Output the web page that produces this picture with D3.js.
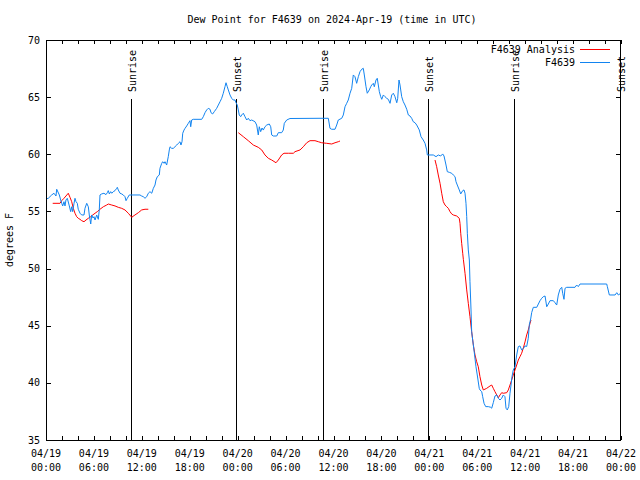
<!DOCTYPE html>
<html><head><meta charset="utf-8">
<script src="https://cdn.jsdelivr.net/npm/d3@7"></script>
<style>
html,body{margin:0;padding:0;background:#fff;}
text{font-family:"DejaVu Sans Mono","Liberation Mono",monospace;font-size:10px;fill:#000;}
</style></head>
<body><svg id="c" width="640" height="480"></svg>
<script>
const titleText = "Dew Point for F4639 on 2024-Apr-19 (time in UTC)";
const yLabel = "degrees F";
const yTicks = [35, 40, 45, 50, 55, 60, 65, 70];
const startUTC = Date.UTC(2024, 3, 19, 0, 0);
const endUTC = Date.UTC(2024, 3, 22, 0, 0);
// events: [label, hours since 04/19 00:00 UTC]
const eventLabels = ["Sunrise", "Sunset", "Sunrise", "Sunset", "Sunrise", "Sunset"];
const eventHours = [10.64, 23.79, 34.69, 47.83, 58.6, 71.87];
const seriesNames = ["F4639 Analysis", "F4639"];
const seriesColors = ["#ff0000", "#1284f0"];

// Station observations [hour, degF]
const stationObs = [[0.05,56.1],[0.29,56.15],[0.71,56.44],[1.0,56.59],[1.25,56.35],[1.34,56.94],[1.67,56.44],[1.84,56.0],[1.97,55.71],[2.09,55.48],[2.25,55.85],[2.38,55.48],[2.5,56.0],[2.67,56.15],[2.92,55.48],[3.09,54.98],[3.22,55.41],[3.34,54.98],[3.51,55.71],[3.63,56.15],[3.76,55.85],[3.92,55.71],[4.04,55.19],[4.26,54.84],[4.47,54.69],[4.76,54.69],[4.88,55.27],[5.1,55.71],[5.3,55.41],[5.42,54.69],[5.6,53.9],[5.72,54.69],[5.89,54.42],[6.01,54.54],[6.14,54.25],[6.35,54.69],[6.55,54.31],[6.67,55.13],[6.76,56.44],[6.97,56.53],[7.26,56.59],[7.51,56.47],[7.68,56.64],[7.8,56.82],[7.93,56.53],[8.1,56.73],[8.23,56.59],[8.43,56.73],[8.64,56.82],[8.85,57.02],[8.93,57.11],[9.05,56.88],[9.27,56.59],[9.48,56.53],[9.68,56.44],[9.89,56.29],[10.02,55.94],[10.18,56.15],[10.43,56.44],[11.77,56.44],[11.98,56.35],[12.18,56.29],[12.4,56.15],[12.61,56.29],[12.81,56.59],[13.02,56.73],[13.24,56.59],[13.44,57.02],[13.65,57.31],[13.77,57.75],[13.94,58.04],[14.19,58.19],[14.27,58.77],[14.49,59.21],[14.61,59.35],[14.78,59.21],[14.9,59.35],[15.11,59.06],[15.31,59.79],[15.44,60.38],[15.53,60.66],[15.74,60.52],[15.94,60.52],[16.15,60.66],[16.37,60.81],[16.57,60.96],[16.78,61.1],[16.9,60.81],[17.03,61.1],[17.12,61.84],[17.28,62.12],[17.41,62.27],[17.62,62.48],[17.82,62.71],[18.03,62.94],[18.12,62.41],[18.24,63.0],[18.44,63.06],[19.5,63.06],[19.7,63.29],[19.91,63.64],[20.12,63.88],[20.32,64.02],[20.54,63.94],[20.66,63.64],[20.87,63.53],[21.07,63.73],[21.37,64.02],[21.58,64.31],[21.79,64.6],[22.0,64.9],[22.2,65.34],[22.41,65.91],[22.54,66.26],[22.7,65.91],[22.83,65.63],[23.04,65.19],[23.25,64.9],[23.45,64.75],[23.67,64.75],[23.79,64.51],[23.95,64.31],[24.08,63.88],[24.2,63.44],[24.38,63.29],[24.5,63.44],[24.71,63.59],[24.92,63.29],[25.13,63.0],[25.33,63.15],[25.54,62.94],[25.76,63.0],[26.17,62.85],[26.38,62.56],[26.58,61.69],[26.71,62.41],[26.88,61.98],[27.05,62.3],[27.21,62.12],[27.42,62.41],[27.64,62.56],[27.96,62.65],[28.14,62.41],[28.26,61.69],[28.46,61.6],[28.89,61.6],[29.09,61.89],[29.51,61.89],[29.71,62.12],[29.84,62.71],[30.14,63.0],[30.55,63.13],[34.31,63.15],[35.35,63.15],[35.56,62.27],[35.77,62.19],[36.19,62.19],[36.4,62.56],[36.6,63.0],[37.03,63.15],[37.23,63.44],[37.44,64.16],[37.65,64.46],[37.85,64.75],[38.07,65.34],[38.28,65.77],[38.48,66.94],[38.69,66.79],[38.9,66.21],[39.11,66.79],[39.32,67.23],[39.53,67.44],[39.73,67.52],[39.86,66.94],[40.07,65.91],[40.23,65.34],[40.48,65.63],[40.66,65.91],[40.78,66.06],[40.99,66.21],[41.11,65.91],[41.32,66.5],[41.48,66.65],[41.61,66.06],[41.74,65.48],[41.91,65.04],[42.04,64.81],[42.24,65.19],[42.45,65.04],[42.66,64.9],[42.86,64.81],[43.08,64.46],[43.29,65.19],[43.49,65.34],[43.7,65.04],[43.92,64.51],[44.04,64.9],[44.2,66.5],[44.33,66.06],[44.54,65.04],[44.74,64.6],[44.95,64.31],[45.17,63.94],[45.37,63.44],[45.58,63.35],[45.79,63.15],[45.99,62.85],[46.21,62.76],[46.42,62.56],[46.74,62.13],[46.96,61.54],[47.24,61.25],[47.46,60.96],[47.67,60.38],[47.75,59.94],[48.5,59.94],[48.84,59.79],[49.12,59.94],[49.42,59.85],[49.67,60.03],[49.84,59.85],[50.09,59.06],[50.25,58.48],[50.5,58.42],[50.8,58.34],[51.0,58.19],[51.22,58.04],[51.34,57.6],[51.5,57.31],[51.75,56.88],[51.93,56.53],[52.18,56.82],[52.34,56.88],[52.47,56.59],[52.59,55.71],[52.68,54.54],[52.76,53.09],[52.88,51.63],[53.01,50.75],[53.09,48.85],[53.22,46.38],[53.3,44.48],[53.43,43.75],[53.59,42.88],[53.84,41.41],[54.0,40.69],[54.25,39.52],[54.34,39.38],[54.56,39.23],[54.68,38.79],[54.85,38.21],[55.06,37.92],[55.39,37.92],[55.69,37.86],[55.81,37.78],[56.01,38.27],[56.22,38.85],[56.44,38.94],[56.64,38.65],[56.85,38.5],[57.06,38.65],[57.26,38.94],[57.47,38.79],[57.6,37.78],[57.76,37.63],[57.94,37.92],[58.1,39.09],[58.23,39.81],[58.35,40.54],[58.51,41.13],[58.73,41.41],[58.94,42.44],[59.14,43.17],[59.35,43.23],[59.56,42.88],[59.77,43.0],[59.98,43.23],[60.19,43.18],[60.39,43.9],[60.52,45.09],[60.69,45.59],[60.82,46.16],[61.02,46.61],[61.45,46.61],[61.65,46.9],[61.86,47.19],[62.07,47.4],[62.27,47.54],[62.49,47.6],[62.7,46.66],[62.9,46.9],[63.11,47.19],[63.53,47.19],[63.74,47.01],[63.95,46.81],[64.15,47.69],[64.36,48.19],[64.58,48.36],[64.7,47.84],[64.86,47.31],[64.99,48.27],[65.2,48.36],[66.24,48.36],[66.45,48.56],[66.65,48.42],[66.87,48.65],[70.21,48.65],[70.29,48.42],[70.54,47.69],[71.26,47.69],[71.47,47.89],[71.67,47.69],[71.97,47.84]];

// Analysis, three runs
const analysisRun1 = [[0.84,55.71],[1.75,55.71],[1.97,55.94],[2.25,56.15],[2.5,56.35],[2.79,56.59],[3.0,56.24],[3.22,55.85],[3.42,55.27],[3.63,54.84],[3.84,54.54],[4.04,54.4],[4.26,54.31],[4.47,54.19],[4.76,54.1],[5.01,54.25],[5.3,54.4],[5.6,54.54],[5.85,54.69],[6.14,54.84],[6.42,54.98],[6.76,55.19],[7.18,55.41],[7.6,55.56],[7.8,55.65],[8.23,55.56],[8.64,55.48],[9.05,55.36],[9.48,55.27],[9.89,55.13],[10.31,54.84],[10.73,54.49],[11.14,54.69],[11.56,54.89],[11.98,55.13],[12.4,55.19],[12.81,55.19]];
const analysisRun2 = [[24.08,61.89],[24.71,61.54],[25.33,61.19],[25.96,60.81],[26.58,60.61],[27.01,60.38],[27.42,59.94],[27.84,59.65],[28.26,59.5],[28.8,59.26],[29.09,59.5],[29.51,59.94],[29.8,60.09],[30.34,60.09],[30.97,60.09],[31.18,60.23],[31.81,60.38],[32.22,60.66],[32.65,61.01],[33.06,61.19],[33.68,61.19],[34.1,61.1],[34.52,61.01],[35.15,60.96],[35.78,60.9],[36.19,61.01],[36.6,61.1],[36.81,61.16]];
const analysisRun3 = [[48.71,59.5],[48.92,58.91],[49.12,58.19],[49.34,57.46],[49.55,56.59],[49.75,55.85],[49.96,55.56],[50.18,55.41],[50.38,55.27],[50.59,54.98],[50.8,54.78],[51.0,54.69],[51.43,54.6],[51.75,54.4],[51.84,53.96],[51.93,53.09],[52.05,52.21],[52.18,51.34],[52.26,50.81],[52.47,49.59],[52.68,48.13],[52.88,46.96],[53.09,45.79],[53.3,44.48],[53.51,43.31],[53.72,42.44],[53.93,41.85],[54.13,41.41],[54.34,40.54],[54.56,39.81],[54.76,39.38],[55.18,39.52],[55.6,39.73],[55.81,39.81],[56.01,39.52],[56.22,39.23],[56.44,38.94],[56.64,38.7],[56.85,38.94],[57.06,39.14],[57.26,39.09],[57.69,39.14],[57.89,39.38],[58.1,39.81],[58.31,40.25],[58.51,40.69],[58.73,41.13],[58.94,41.56],[59.14,42.0],[59.35,42.29],[59.56,42.59],[59.77,43.05],[59.98,43.58],[60.19,44.19],[60.39,44.63],[60.61,45.21],[60.73,45.5]];

const W = 640, H = 480;
const m = {left: 46, right: 19, top: 40, bottom: 40};
const svg = d3.select("#c");
const toDate = h => new Date(startUTC + h * 3600e3);

const x = d3.scaleUtc().domain([new Date(startUTC), new Date(endUTC)]).range([m.left, W - m.right]);
const y = d3.scaleLinear().domain([35, 70]).range([H - m.bottom, m.top]);

// Title
svg.append("text").attr("x", 332).attr("y", 23).attr("text-anchor", "middle").text(titleText);
// Y label
svg.append("text").attr("transform", "translate(13,240) rotate(-90)").attr("text-anchor", "middle").text(yLabel);

const gx = svg.append("g");
const minorTicks = d3.utcHour.every(2).range(new Date(startUTC), new Date(endUTC + 1));
const majorTicks = d3.utcHour.every(6).range(new Date(startUTC), new Date(endUTC + 1));
const fmtD = d3.utcFormat("%m/%d"), fmtT = d3.utcFormat("%H:%M");

// x ticks (bottom and top, inward)
gx.selectAll("line.xb").data(minorTicks).join("line")
  .attr("x1", d => Math.round(x(d)) + 0.5).attr("x2", d => Math.round(x(d)) + 0.5)
  .attr("y1", H - m.bottom).attr("y2", H - m.bottom - 4).attr("stroke", "#000");
gx.selectAll("line.xt").data(minorTicks).join("line").attr("class","xt")
  .attr("x1", d => Math.round(x(d)) + 0.5).attr("x2", d => Math.round(x(d)) + 0.5)
  .attr("y1", m.top).attr("y2", m.top + 4).attr("stroke", "#000");
const xl = gx.selectAll("text.xl").data(majorTicks).join("text").attr("class","xl")
  .attr("text-anchor", "middle");
xl.append("tspan").attr("x", d => x(d)).attr("y", 457).text(d => fmtD(d));
xl.append("tspan").attr("x", d => x(d)).attr("y", 471).text(d => fmtT(d));

// y ticks
const gy = svg.append("g");
gy.selectAll("line.yl").data(yTicks).join("line").attr("class","yl")
  .attr("x1", m.left).attr("x2", m.left + 5)
  .attr("y1", d => Math.round(y(d)) + 0.5).attr("y2", d => Math.round(y(d)) + 0.5).attr("stroke", "#000");
gy.selectAll("line.yr").data(yTicks).join("line").attr("class","yr")
  .attr("x1", W - m.right).attr("x2", W - m.right - 5)
  .attr("y1", d => Math.round(y(d)) + 0.5).attr("y2", d => Math.round(y(d)) + 0.5).attr("stroke", "#000");
gy.selectAll("text").data(yTicks).join("text")
  .attr("x", 40).attr("y", d => y(d)).attr("dy", "0.35em").attr("text-anchor", "end").text(d => d);

// event lines
const events = eventLabels.map((l, i) => ({label: l, t: toDate(eventHours[i])}));
const ge = svg.append("g");
ge.selectAll("line").data(events).join("line")
  .attr("x1", d => Math.round(x(d.t)) + 0.5).attr("x2", d => Math.round(x(d.t)) + 0.5)
  .attr("y1", 99).attr("y2", H - m.bottom).attr("stroke", "#000");
ge.selectAll("text").data(events).join("text")
  .attr("transform", d => `translate(${Math.round(x(d.t)) + 5},92) rotate(-90)`)
  .attr("text-anchor", "start").text(d => d.label);

// series lines
const line = d3.line().x(d => x(toDate(d[0]))).y(d => y(d[1]));
const gs = svg.append("g");
[analysisRun1, analysisRun2, analysisRun3].forEach(run => {
  gs.append("path").attr("d", line(run)).attr("fill", "none").attr("stroke", seriesColors[0]).attr("stroke-width", 1);
});
gs.append("path").attr("d", line(stationObs)).attr("fill", "none").attr("stroke", seriesColors[1]).attr("stroke-width", 1);

// border
svg.append("rect").attr("x", m.left + 0.5).attr("y", m.top + 0.5)
  .attr("width", W - m.left - m.right - 1).attr("height", H - m.top - m.bottom)
  .attr("fill", "none").attr("stroke", "#000");

// legend
const lg = svg.append("g");
seriesNames.forEach((n, i) => {
  const cy = 49 + i * 13;
  lg.append("text").attr("x", 575).attr("y", cy).attr("dy", "0.35em").attr("text-anchor", "end").text(n);
  lg.append("line").attr("x1", 580).attr("x2", 610).attr("y1", cy + 0.5).attr("y2", cy + 0.5).attr("stroke", seriesColors[i]);
});
</script></body></html>
